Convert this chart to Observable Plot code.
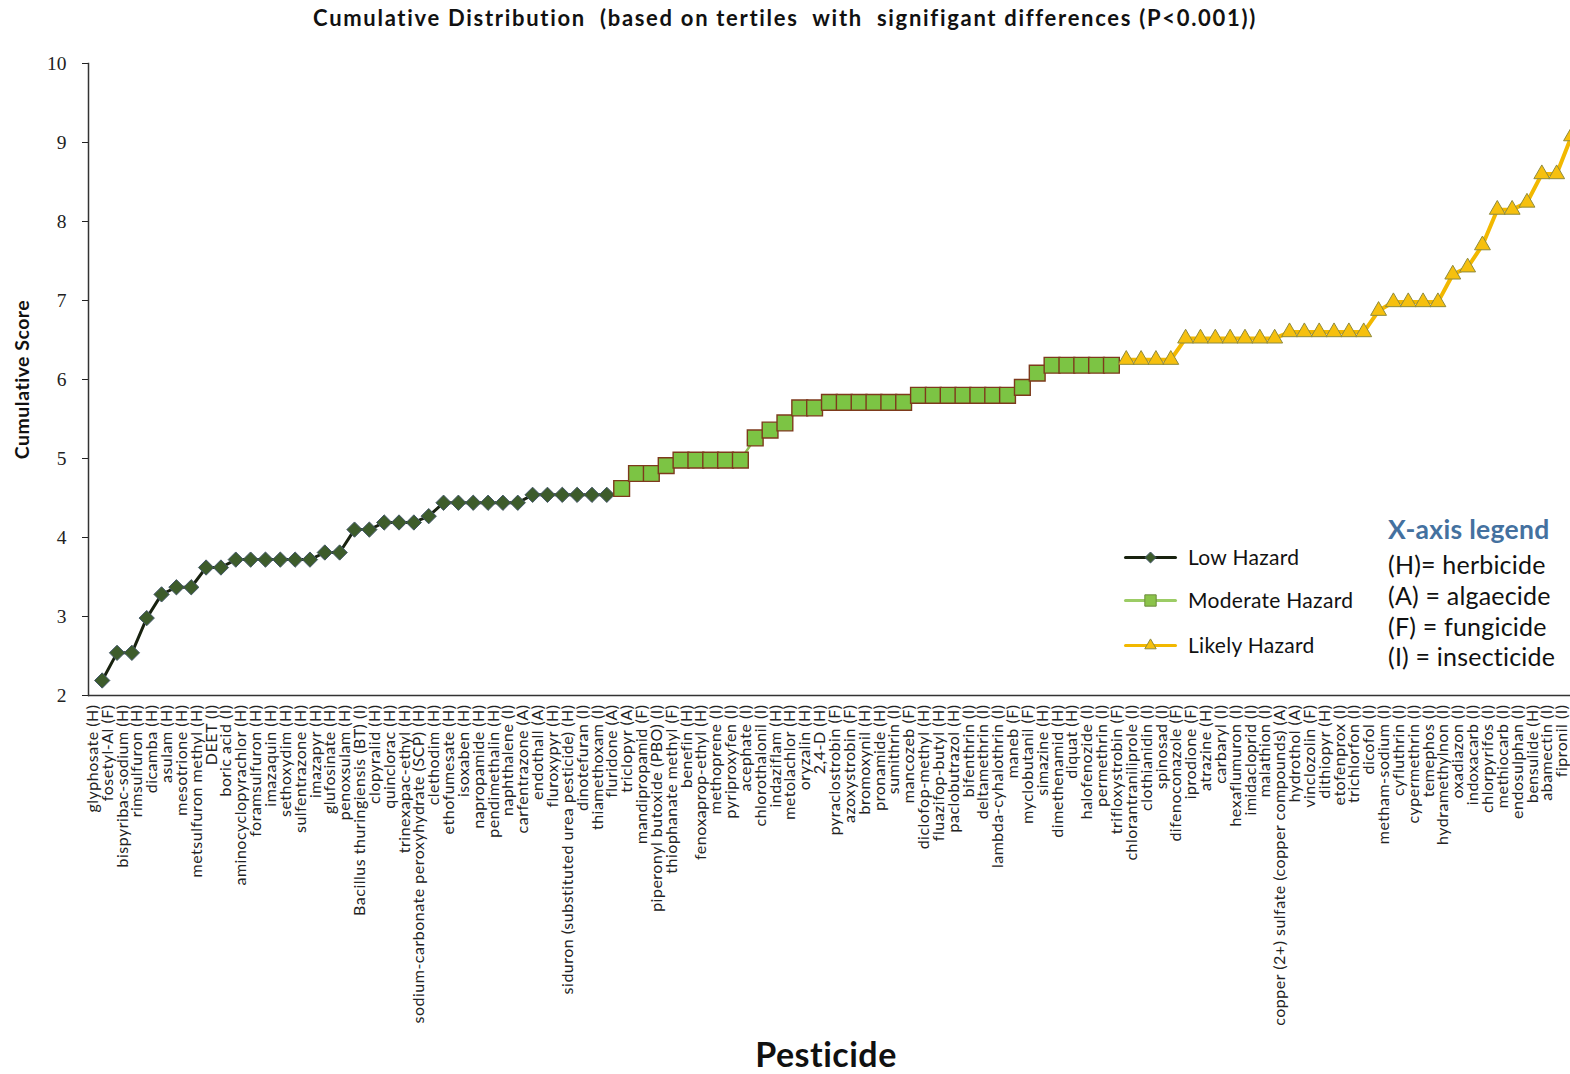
<!DOCTYPE html>
<html>
<head>
<meta charset="utf-8">
<script src="https://cdn.jsdelivr.net/npm/d3@7"></script>
<script src="https://cdn.jsdelivr.net/npm/@observablehq/plot@0.6"></script>
<style>
  html, body { margin: 0; padding: 0; background: #fff; overflow: hidden; }
  #page { position: relative; width: 1570px; height: 1074px; font-family: Lato, "Open Sans", sans-serif; color: #111; }
  #title { position: absolute; top: 4px; left: 0; width: 1570px; text-align: center; font-weight: 700; font-size: 22px; letter-spacing: 1.7px; white-space: pre; }
  #chart { position: absolute; left: 0; top: 40px; }
  #chart g[aria-label="text"] { letter-spacing: 0.5px; }
  #xtitle { position: absolute; top: 1033px; left: 676px; width: 300px; text-align: center; font-weight: 700; font-size: 34px; letter-spacing: 0.5px; }
  .leg { position: absolute; font-size: 21px; line-height: 24px; letter-spacing: 0.3px; white-space: nowrap; }
  .key { position: absolute; font-size: 25px; line-height: 28px; letter-spacing: 0.2px; white-space: nowrap; }
  .keyhead { color: #44719f; font-weight: 700; font-size: 26.5px; letter-spacing: 0.3px; }
</style>
</head>
<body>
<div id="page">
  <div id="title">Cumulative Distribution  (based on tertiles  with  signifigant differences (P&lt;0.001))</div>
  <div id="chart"></div>
  <div id="xtitle">Pesticide</div>
  <div id="legend"></div>
  <div class="key keyhead" style="left:1388px; top:515px;">X-axis legend</div>
  <div class="key" style="left:1388px; top:550px;">(H)= herbicide</div>
  <div class="key" style="left:1388px; top:581px;">(A) = algaecide</div>
  <div class="key" style="left:1388px; top:612px;">(F) = fungicide</div>
  <div class="key" style="left:1388px; top:642px;">(I) = insecticide</div>
</div>
<script>
// Pesticides ordered by cumulative hazard score, split into tertiles
const lowNames = [
  "glyphosate (H)", "fosetyl-Al (F)", "bispyribac-sodium (H)", "rimsulfuron (H)", "dicamba (H)",
  "asulam (H)", "mesotrione (H)", "metsulfuron methyl (H)", "DEET (I)", "boric acid (I)",
  "aminocyclopyrachlor (H)", "foramsulfuron (H)", "imazaquin (H)", "sethoxydim (H)", "sulfentrazone (H)",
  "imazapyr (H)", "glufosinate (H)", "penoxsulam (H)", "Bacillus thuringiensis (BT) (I)", "clopyralid (H)",
  "quinclorac (H)", "trinexapac-ethyl (H)", "sodium-carbonate peroxyhydrate (SCP) (H)", "clethodim (H)", "ethofumesate (H)",
  "isoxaben (H)", "napropamide (H)", "pendimethalin (H)", "naphthalene (I)", "carfentrazone (A)",
  "endothall (A)", "fluroxypyr (H)", "siduron (substituted urea pesticide) (H)", "dinotefuran (I)", "thiamethoxam (I)"
];
const lowScores = [
  2.19, 2.54, 2.54, 2.98, 3.28, 3.37, 3.37, 3.62, 3.62, 3.72,
  3.72, 3.72, 3.72, 3.72, 3.72, 3.81, 3.81, 4.10, 4.10, 4.19,
  4.19, 4.19, 4.27, 4.44, 4.44, 4.44, 4.44, 4.44, 4.44, 4.54,
  4.54, 4.54, 4.54, 4.54, 4.54
];

const moderateNames = [
  "fluridone (A)", "triclopyr (A)", "mandipropamid (F)", "piperonyl butoxide (PBO) (I)", "thiophanate methyl (F)",
  "benefin (H)", "fenoxaprop-ethyl (H)", "methoprene (I)", "pyriproxyfen (I)", "acephate (I)",
  "chlorothalonil (I)", "indaziflam (H)", "metolachlor (H)", "oryzalin (H)", "2,4-D (H)",
  "pyraclostrobin (F)", "azoxystrobin (F)", "bromoxynil (H)", "pronamide (H)", "sumithrin (I)",
  "mancozeb (F)", "diclofop-methyl (H)", "fluazifop-butyl (H)", "paclobutrazol (H)", "bifenthrin (I)",
  "deltamethrin (I)", "lambda-cyhalothrin (I)", "maneb (F)", "myclobutanil (F)", "simazine (H)",
  "dimethenamid (H)", "diquat (H)", "halofenozide (I)", "permethrin (I)"
];
const moderateScores = [
  4.62, 4.81, 4.81, 4.91, 4.98, 4.98, 4.98, 4.98, 4.98, 5.26,
  5.36, 5.45, 5.64, 5.64, 5.71, 5.71, 5.71, 5.71, 5.71, 5.71,
  5.80, 5.80, 5.80, 5.80, 5.80, 5.80, 5.80, 5.90, 6.08, 6.18,
  6.18, 6.18, 6.18, 6.18
];

const likelyNames = [
  "trifloxystrobin (F)", "chlorantraniliprole (I)", "clothianidin (I)", "spinosad (I)", "difenoconazole (F)",
  "iprodione (F)", "atrazine (H)", "carbaryl (I)", "hexaflumuron (I)", "imidacloprid (I)",
  "malathion (I)", "copper (2+) sulfate (copper compounds) (A)", "hydrothol (A)", "vinclozolin (F)", "dithiopyr (H)",
  "etofenprox (I)", "trichlorfon (I)", "dicofol (I)", "metham-sodium (I)", "cyfluthrin (I)",
  "cypermethrin (I)", "temephos (I)", "hydramethylnon (I)", "oxadiazon (I)", "indoxacarb (I)",
  "chlorpyrifos (I)", "methiocarb (I)", "endosulphan (I)", "bensulide (H)", "abamectin (I)",
  "fipronil (I)"
];
const likelyScores = [
  6.25, 6.25, 6.25, 6.25, 6.52, 6.52, 6.52, 6.52, 6.52, 6.52,
  6.52, 6.60, 6.60, 6.60, 6.60, 6.60, 6.60, 6.87, 6.98, 6.98,
  6.98, 6.98, 7.33, 7.42, 7.70, 8.15, 8.15, 8.24, 8.60, 8.60,
  9.08
];

const yTicks = [2, 3, 4, 5, 6, 7, 8, 9, 10];

// Series styling
const tiers = [
  {label: "Low Hazard", names: lowNames, scores: lowScores,
   line: "#18220f", lineWidth: 3, symbol: "diamond2", r: 6.9, fill: "#3d5c2b", stroke: "#44586a", sw: 1},
  {label: "Moderate Hazard", names: moderateNames, scores: moderateScores,
   line: "#8fbf55", lineWidth: 2.5, symbol: "square", r: 8.9, fill: "#7cc444", stroke: "#7d3a1c", sw: 1.4},
  {label: "Likely Hazard", names: likelyNames, scores: likelyScores,
   line: "#f2b800", lineWidth: 4, symbol: "triangle", r: 5.9, fill: "#f6c00e", stroke: "#8e8a3c", sw: 1}
];

const rows = tiers.flatMap(t => t.names.map((n, i) => ({pesticide: n, score: t.scores[i], tier: t.label})));
const allNames = rows.map(d => d.pesticide);

const seriesMarks = tiers.flatMap(t => {
  const data = rows.filter(d => d.tier === t.label);
  return [
    Plot.line(data, {x: "pesticide", y: "score", stroke: t.line, strokeWidth: t.lineWidth}),
    Plot.dot(data, {x: "pesticide", y: "score", symbol: t.symbol, r: t.r, fill: t.fill, stroke: t.stroke, strokeWidth: t.sw})
  ];
});

const chart = Plot.plot({
  width: 1570,
  height: 1034,
  marginLeft: 88,
  marginRight: 0,
  marginTop: 23,
  marginBottom: 379,
  style: {background: "transparent", overflow: "visible", fontFamily: "Lato, sans-serif"},
  x: {type: "point", domain: allNames, range: [101.7, 1571], padding: 0, axis: null},
  y: {domain: [2, 10], axis: null},
  marks: [
    Plot.axisY({ticks: yTicks, tickSize: 6, tickPadding: 16, fontSize: 19.5, fontFamily: "Liberation Serif",
                color: "#222", label: null}),
    Plot.frame({anchor: "left", stroke: "#333", strokeWidth: 1.5}),
    Plot.ruleY([2], {stroke: "#333", strokeWidth: 1.5}),
    Plot.text(["Cumulative Score"], {frameAnchor: "left", rotate: -90, textAnchor: "middle", dx: -66,
                                     fontWeight: 700, fontSize: 19.5, fill: "#111"}),
    Plot.text(rows, {x: "pesticide", text: "pesticide", frameAnchor: "bottom", rotate: -90,
                     textAnchor: "end", lineAnchor: "middle", dx: -9.4, dy: 9, fontSize: 16, fill: "#222"}),
    ...seriesMarks
  ]
});
document.getElementById("chart").appendChild(chart);

// Series legend drawn with the same symbols
const legendRows = [
  {tier: tiers[0], top: 545},
  {tier: tiers[1], top: 588},
  {tier: tiers[2], top: 633}
];
const legend = document.getElementById("legend");
for (const {tier, top} of legendRows) {
  const sw = Plot.plot({
    width: 56, height: 24, margin: 0,
    style: {background: "transparent", overflow: "visible"},
    x: {domain: [0, 1], range: [3, 53], axis: null},
    y: {domain: [0, 1], range: [12, 12], axis: null},
    marks: [
      Plot.line([[0, 0], [1, 0]], {stroke: tier.label === "Moderate Hazard" ? "#9ccc65" : tier.line, strokeWidth: 3}),
      Plot.dot([[0.5, 0]], {symbol: tier.symbol, r: tier.r * 0.72,
        fill: tier.label === "Moderate Hazard" ? "#8bc34a" : tier.fill,
        stroke: tier.label === "Moderate Hazard" ? "#6c8c3c" : tier.stroke, strokeWidth: 1})
    ]
  });
  sw.style.position = "absolute";
  sw.style.left = "1122px";
  sw.style.top = top + "px";
  legend.appendChild(sw);
  const lab = document.createElement("div");
  lab.className = "leg";
  lab.style.left = "1188px";
  lab.style.top = top + "px";
  lab.textContent = tier.label;
  legend.appendChild(lab);
}
</script>
</body>
</html>
